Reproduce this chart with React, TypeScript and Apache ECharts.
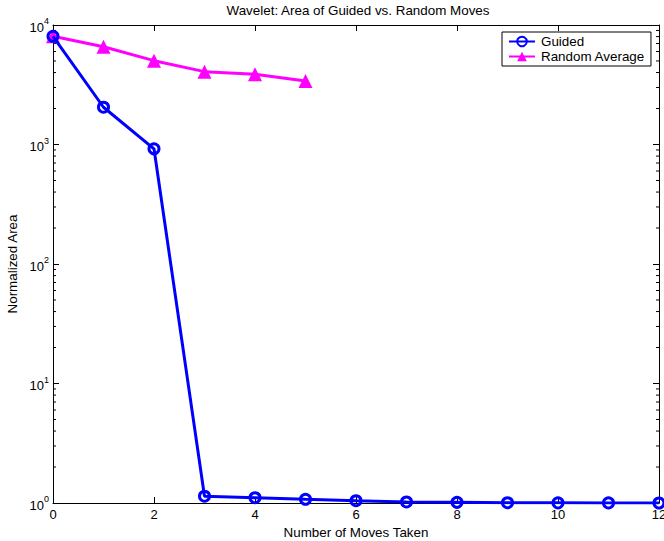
import React, { useEffect, useRef } from "react";
import * as echarts from "echarts";

// Moves taken (x) and normalized area (log y)
const guidedMoves = [0, 1, 2, 3, 4, 5, 6, 7, 8, 9, 10, 11, 12];
const guidedArea = [8050, 2050, 920, 1.14, 1.107, 1.074, 1.045, 1.02, 1.013, 1.005, 1.003, 1.002, 1.0];
const randomMoves = [0, 1, 2, 3, 4, 5];
const randomArea = [8050, 6580, 5030, 4070, 3870, 3400];

const yDecades = [1, 10, 100, 1000, 10000];
const minorMantissas = [2, 3, 4, 5, 6, 7, 8, 9];

const FONT = "Liberation Sans, Arial, Helvetica, sans-serif";
const FS = 13.4;

export default function App() {
  const ref = useRef<HTMLDivElement>(null);

  useEffect(() => {
    if (!ref.current) return;
    const chart = echarts.init(ref.current, null, { renderer: "svg" });

    // minor log ticks between the decades
    const minorValues: number[] = [];
    for (let d = 0; d < yDecades.length - 1; d++) {
      for (const m of minorMantissas) minorValues.push(m * yDecades[d]);
    }

    const supLabel = (v: number) => {
      const e = Math.round(Math.log10(v));
      return `{b|10}{s|${e}}`;
    };
    const rich = {
      b: { fontSize: 13, fontFamily: FONT, color: "#000", padding: [4, 0, 0, 0] },
      s: { fontSize: 9, fontFamily: FONT, color: "#000", padding: [0, 0, 8, 0] },
    };
    const txt = { fontSize: FS, fontFamily: FONT, color: "#000" };
    const tick = { inside: true, length: 6, lineStyle: { color: "#000", width: 1 } };

    chart.setOption({
      animation: false,
      backgroundColor: "#fff",
      title: {
        text: "Wavelet: Area of Guided vs. Random Moves",
        left: 358,
        top: 4,
        padding: 0,
        textAlign: "center",
        textStyle: { ...txt, fontWeight: "normal" },
      },
      legend: {
        orient: "vertical",
        left: 502,
        top: 32,
        padding: [3, 6, 3, 6],
        itemGap: 2,
        itemWidth: 26,
        itemHeight: 12,
        borderColor: "#000",
        borderWidth: 1,
        backgroundColor: "#fff",
        textStyle: { ...txt, padding: [0, 0, 0, 1] },
        data: ["Guided", "Random Average"],
      },
      grid: { left: 53, right: 5, top: 25, bottom: 38, outerBoundsMode: "none", containLabel: false },
      xAxis: [
        {
          type: "value",
          min: 0,
          max: 12,
          interval: 2,
          name: "Number of Moves Taken",
          nameLocation: "middle",
          nameGap: 18,
          nameTextStyle: txt,
          axisLine: { lineStyle: { color: "#000", width: 1 } },
          axisTick: tick,
          axisLabel: { ...txt, fontSize: 13, margin: 5 },
          splitLine: { show: false },
        },
        {
          type: "value",
          position: "top",
          min: 0,
          max: 12,
          interval: 2,
          axisLine: { onZero: false, lineStyle: { color: "#000", width: 1 } },
          axisTick: tick,
          axisLabel: { show: false },
          splitLine: { show: false },
        },
      ],
      yAxis: [
        {
          type: "log",
          logBase: 10,
          min: 1,
          max: 10000,
          name: "Normalized Area",
          nameLocation: "middle",
          nameGap: 29,
          nameTextStyle: txt,
          axisLine: { lineStyle: { color: "#000", width: 1 } },
          axisTick: tick,
          axisLabel: { formatter: supLabel, rich, margin: 4 },
          splitLine: { show: false },
        },
        {
          type: "log",
          logBase: 10,
          min: 1,
          max: 10000,
          position: "right",
          axisLine: { onZero: false, lineStyle: { color: "#000", width: 1 } },
          axisTick: tick,
          axisLabel: { show: false },
          splitLine: { show: false },
        },
      ],
      series: [
        {
          type: "custom",
          silent: true,
          xAxisIndex: 0,
          yAxisIndex: 0,
          data: minorValues.map((v) => [0, v]),
          renderItem: (params: any, api: any) => {
            const v = api.value(1);
            const left = api.coord([0, v]);
            const right = api.coord([12, v]);
            const style = { stroke: "#000", lineWidth: 1 };
            return {
              type: "group",
              children: [
                { type: "line", shape: { x1: left[0], y1: left[1], x2: left[0] + 3, y2: left[1] }, style },
                { type: "line", shape: { x1: right[0], y1: right[1], x2: right[0] - 3, y2: right[1] }, style },
              ],
            };
          },
          z: 1,
        },
        {
          name: "Guided",
          type: "line",
          data: guidedMoves.map((m, i) => [m, guidedArea[i]]),
          color: "#0000ff",
          lineStyle: { color: "#0000ff", width: 3 },
          symbol: "circle",
          symbolSize: 10,
          itemStyle: { color: "rgba(255,255,255,0)", borderColor: "#0000ff", borderWidth: 3 },
          z: 3,
        },
        {
          name: "Random Average",
          type: "line",
          data: randomMoves.map((m, i) => [m, randomArea[i]]),
          color: "#ff00ff",
          lineStyle: { color: "#ff00ff", width: 3 },
          symbol: "triangle",
          symbolSize: 14,
          itemStyle: { color: "#ff00ff" },
          z: 2,
        },
      ],
    });

    return () => chart.dispose();
  }, []);

  return <div ref={ref} style={{ width: 664, height: 541, position: "absolute", left: 0, top: 0 }} />;
}
